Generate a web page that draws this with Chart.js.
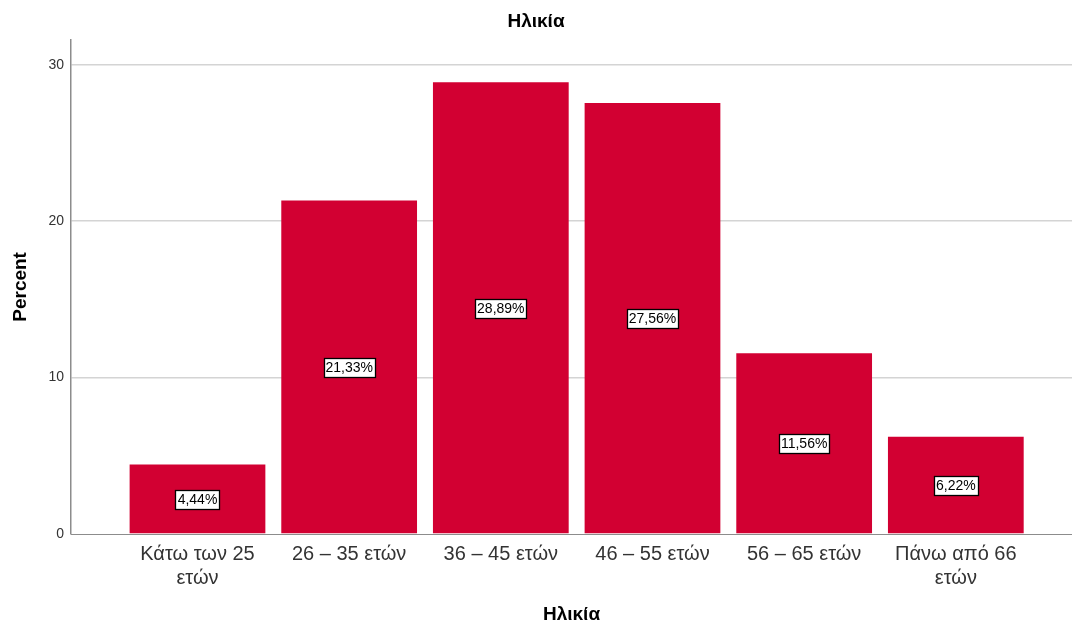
<!DOCTYPE html>
<html>
<head>
<meta charset="utf-8">
<script src="https://cdn.jsdelivr.net/npm/chart.js@4.4.1/dist/chart.umd.min.js"></script>
<style>
html,body{margin:0;padding:0;background:#fff;}
canvas{display:block;}
</style>
</head>
<body>
<canvas id="c" width="1072" height="628"></canvas>
<script>
const categories = [["Κάτω των 25","ετών"],"26 – 35 ετών","36 – 45 ετών","46 – 55 ετών","56 – 65 ετών",["Πάνω από 66","ετών"]];
const percentValues = [4.44, 21.33, 28.89, 27.56, 11.56, 6.22];
const valueLabels = ["4,44%","21,33%","28,89%","27,56%","11,56%","6,22%"];
const yTicks = [0, 10, 20, 30];
const chartTitle = "Ηλικία";
const xTitle = "Ηλικία";
const yTitle = "Percent";

const FONT = "'Liberation Sans', Arial, sans-serif";

const labelBoxes = {
  id: 'labelBoxes',
  afterDatasetsDraw(chart) {
    const ctx = chart.ctx;
    const meta = chart.getDatasetMeta(0);
    const yScale = chart.scales.y;
    ctx.save();
    ctx.font = "14px " + FONT;
    ctx.textAlign = 'center';
    ctx.textBaseline = 'middle';
    meta.data.forEach((bar, i) => {
      const cx = bar.x;
      const cy = yScale.getPixelForValue(percentValues[i] / 2);
      const txt = valueLabels[i];
      const w = Math.round(ctx.measureText(txt).width + 4);
      const h = 19;
      const x0 = Math.round(cx - w/2) + 0.5, y0 = Math.round(cy - h/2) + 0.5;
      ctx.fillStyle = '#ffffff';
      ctx.fillRect(x0, y0, w, h);
      ctx.strokeStyle = '#000000';
      ctx.lineWidth = 1.3;
      ctx.strokeRect(x0, y0, w, h);
      ctx.fillStyle = '#000000';
      ctx.fillText(txt, cx, cy + 1);
    });
    ctx.restore();
  }
};

new Chart(document.getElementById('c'), {
  type: 'bar',
  data: {
    datasets: [{
      data: percentValues.map((v, i) => ({x: i, y: v})),
      backgroundColor: '#D20032',
      borderWidth: 0,
      categoryPercentage: 1,
      barPercentage: 0.895
    }]
  },
  options: {
    responsive: false,
    animation: false,
    devicePixelRatio: 1,
    layout: { padding: { left: 0, right: 0, top: 0, bottom: 0 } },
    plugins: {
      legend: { display: false },
      tooltip: { enabled: false },
      title: {
        display: true,
        text: chartTitle,
        color: '#000',
        font: { family: FONT, size: 19, weight: 'bold', lineHeight: 1.2 },
        padding: { top: 10, bottom: 7 }
      }
    },
    scales: {
      x: {
        type: 'linear',
        offset: false,
        min: -0.834,
        max: 5.766,
        afterBuildTicks(scale) { scale.ticks = categories.map((_, i) => ({ value: i })); },
        afterFit(scale) { scale.height = 94; },
        ticks: {
          autoSkip: false,
          maxRotation: 0,
          padding: 8,
          color: '#333',
          font: { family: FONT, size: 20, lineHeight: 1.2 },
          callback: (v) => categories[v]
        },
        grid: { display: false, drawTicks: false, offset: false },
        border: { display: true, color: '#8c8c8c', width: 1 },
        title: {
          display: true,
          text: xTitle,
          color: '#000',
          font: { family: FONT, size: 19, weight: 'bold', lineHeight: 1.2 },
          padding: { top: 0, bottom: 2 }
        }
      },
      y: {
        min: 0,
        max: 31.6,
        afterBuildTicks(scale) { scale.ticks = yTicks.map(v => ({ value: v })); },
        afterFit(scale) { scale.width = 71; },
        ticks: {
          padding: 7,
          color: '#333',
          font: { family: FONT, size: 14 }
        },
        grid: {
          color: (c) => c.tick && c.tick.value === 0 ? 'rgba(0,0,0,0)' : '#d4d4d4',
          lineWidth: 1.5,
          drawTicks: false
        },
        border: { display: true, color: '#8c8c8c', width: 1.5 },
        title: {
          display: true,
          text: yTitle,
          color: '#000',
          font: { family: FONT, size: 19, weight: 'bold', lineHeight: 1.2 },
          padding: { top: 9, bottom: 0 }
        }
      }
    }
  },
  plugins: [labelBoxes]
});
</script>
</body>
</html>
